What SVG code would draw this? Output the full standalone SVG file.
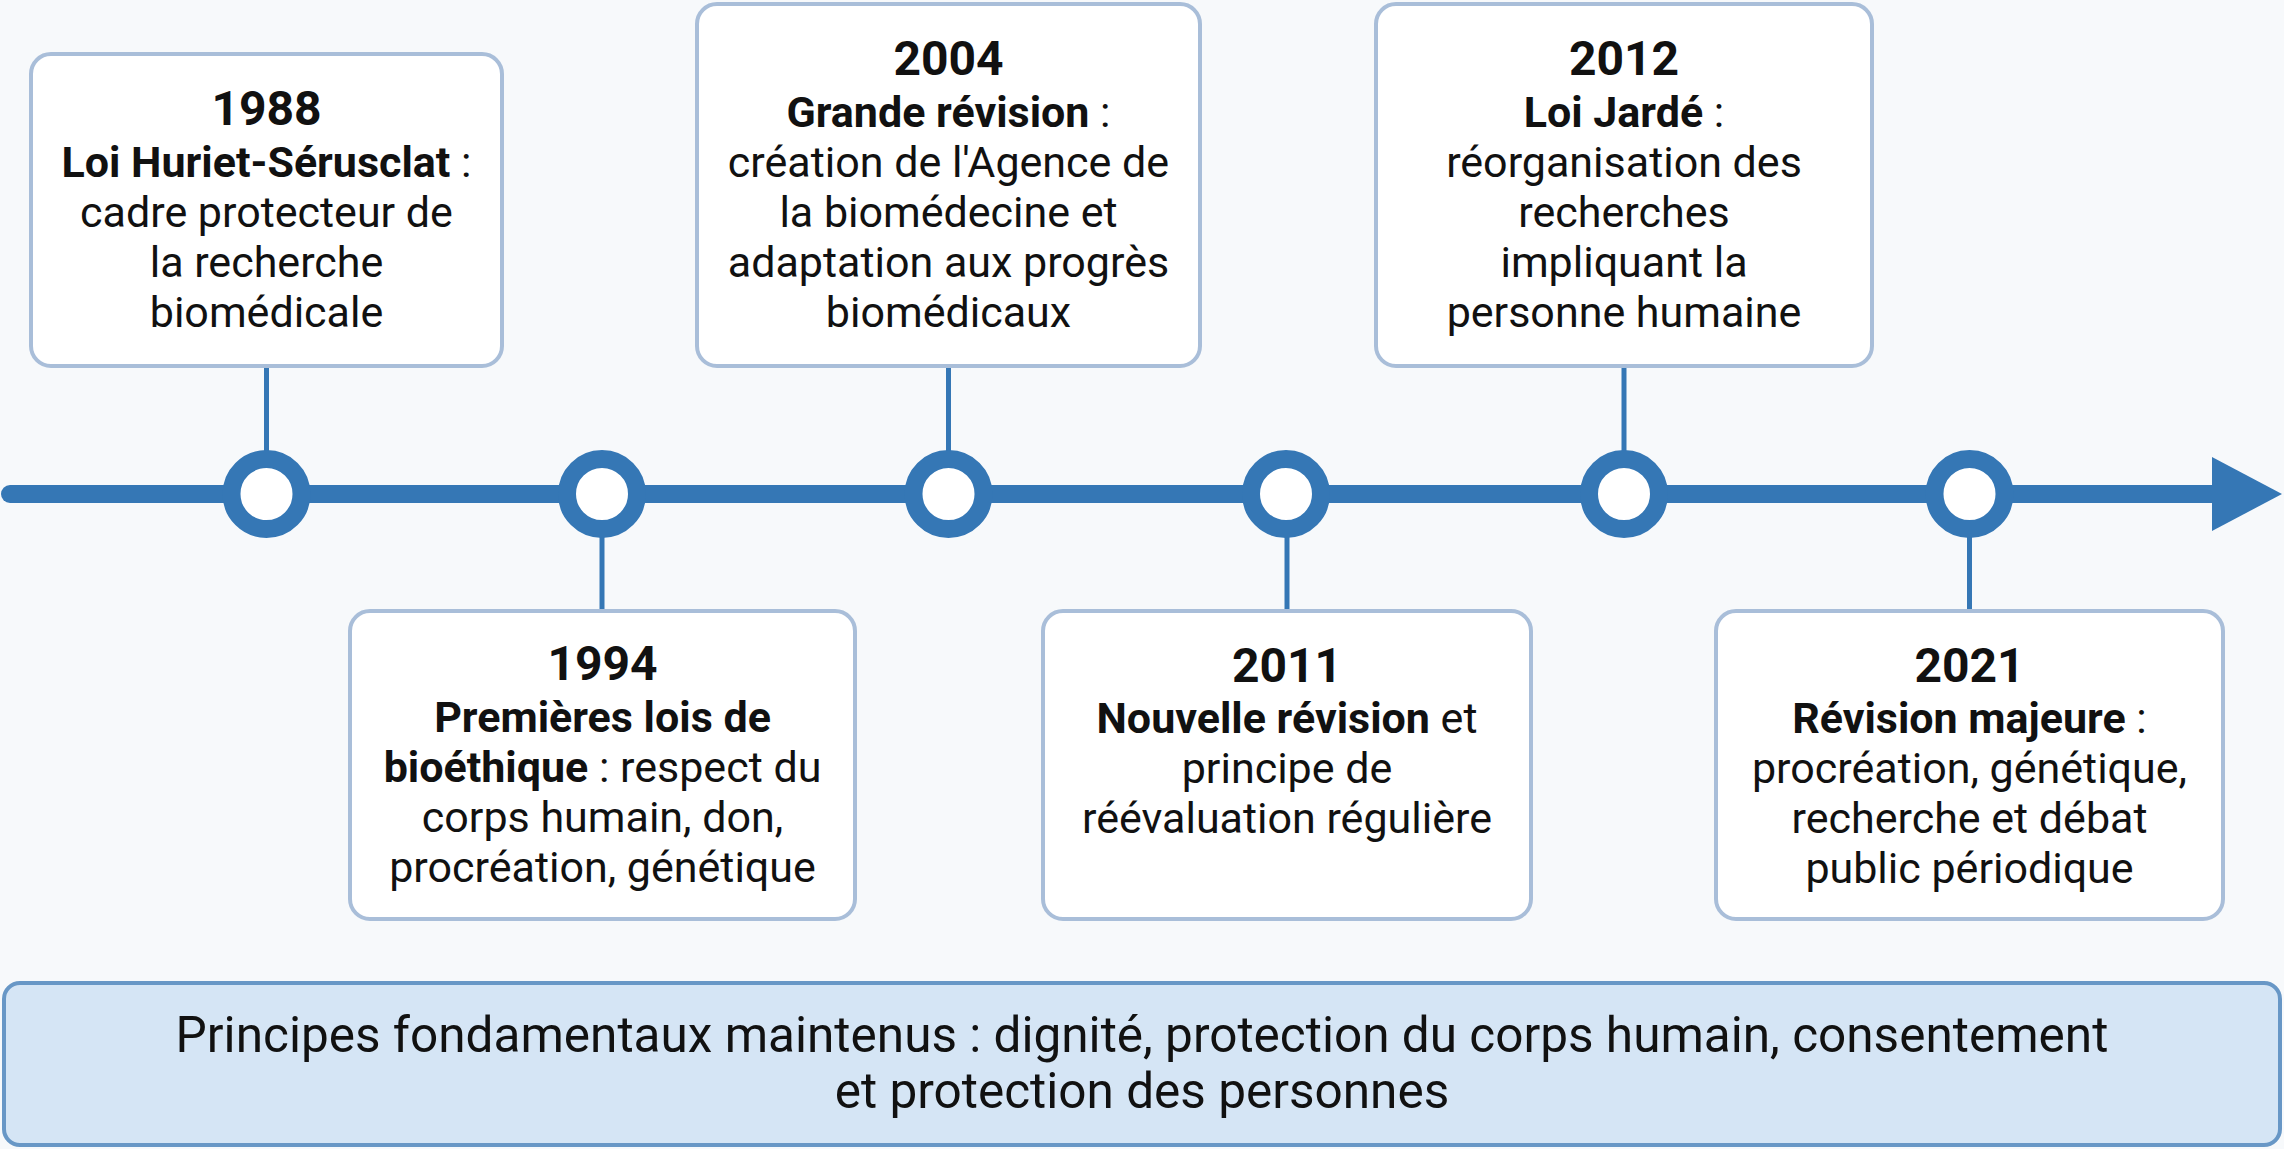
<svg xmlns="http://www.w3.org/2000/svg" width="2284" height="1149" viewBox="0 0 2284 1149">
<style>
.box{fill:#FFFFFF;stroke:#A9BED9;stroke-width:4}
.t{font-family:Roboto,"Liberation Sans",sans-serif;font-size:43px;fill:#111111;text-anchor:middle}
.y{font-size:48px;font-weight:bold}
.b{font-weight:bold}
.stem{stroke:#3577B5;stroke-width:5;fill:none}
.ring{fill:#FFFFFF;stroke:#3577B5;stroke-width:18}
.ban{font-family:Roboto,"Liberation Sans",sans-serif;font-size:49.5px;fill:#111111;text-anchor:middle}
</style>
<rect x="0" y="0" width="2284" height="1149" fill="#F7F9FB"/>
<g id="connectors">
<line x1="10" y1="494" x2="2216" y2="494" stroke="#3577B5" stroke-width="18" stroke-linecap="round"/>
<polygon points="2212,457 2282,494 2212,531" fill="#3577B5"/>
<line class="stem" x1="266.5" y1="366" x2="266.5" y2="455"/>
<line class="stem" x1="602" y1="535" x2="602" y2="612"/>
<line class="stem" x1="948.5" y1="366" x2="948.5" y2="455"/>
<line class="stem" x1="1287" y1="535" x2="1287" y2="612"/>
<line class="stem" x1="1624" y1="366" x2="1624" y2="455"/>
<line class="stem" x1="1969.5" y1="535" x2="1969.5" y2="612"/>
<circle class="ring" cx="266.5" cy="494" r="35"/>
<circle class="ring" cx="602" cy="494" r="35"/>
<circle class="ring" cx="948.5" cy="494" r="35"/>
<circle class="ring" cx="1286" cy="494" r="35"/>
<circle class="ring" cx="1624" cy="494" r="35"/>
<circle class="ring" cx="1969.5" cy="494" r="35"/>
</g>
<g id="n1988">
<rect class="box" x="31" y="54" width="471" height="312" rx="20"/>
<text class="t y" x="266.5" y="125">1988</text>
<text class="t" x="266.5" y="177"><tspan class="b">Loi Huriet-Sérusclat</tspan> :</text>
<text class="t" x="266.5" y="227">cadre protecteur de</text>
<text class="t" x="266.5" y="277">la recherche</text>
<text class="t" x="266.5" y="327">biomédicale</text>
</g>
<g id="n1994">
<rect class="box" x="350" y="611" width="505" height="308" rx="20"/>
<text class="t y" x="602.5" y="680">1994</text>
<text class="t" x="602.5" y="732"><tspan class="b">Premières lois de</tspan></text>
<text class="t" x="602.5" y="782"><tspan class="b">bioéthique</tspan> : respect du</text>
<text class="t" x="602.5" y="832">corps humain, don,</text>
<text class="t" x="602.5" y="882">procréation, génétique</text>
</g>
<g id="n2004">
<rect class="box" x="697" y="4" width="503" height="362" rx="20"/>
<text class="t y" x="948.5" y="75">2004</text>
<text class="t" x="948.5" y="127"><tspan class="b">Grande révision</tspan> :</text>
<text class="t" x="948.5" y="177">création de l'Agence de</text>
<text class="t" x="948.5" y="227">la biomédecine et</text>
<text class="t" x="948.5" y="277">adaptation aux progrès</text>
<text class="t" x="948.5" y="327">biomédicaux</text>
</g>
<g id="n2011">
<rect class="box" x="1043" y="611" width="488" height="308" rx="20"/>
<text class="t y" x="1287" y="682">2011</text>
<text class="t" x="1287" y="733"><tspan class="b">Nouvelle révision</tspan> et</text>
<text class="t" x="1287" y="783">principe de</text>
<text class="t" x="1287" y="833">réévaluation régulière</text>
</g>
<g id="n2012">
<rect class="box" x="1376" y="4" width="496" height="362" rx="20"/>
<text class="t y" x="1624" y="75">2012</text>
<text class="t" x="1624" y="127"><tspan class="b">Loi Jardé</tspan> :</text>
<text class="t" x="1624" y="177">réorganisation des</text>
<text class="t" x="1624" y="227">recherches</text>
<text class="t" x="1624" y="277">impliquant la</text>
<text class="t" x="1624" y="327">personne humaine</text>
</g>
<g id="n2021">
<rect class="box" x="1716" y="611" width="507" height="308" rx="20"/>
<text class="t y" x="1969.5" y="682">2021</text>
<text class="t" x="1969.5" y="733"><tspan class="b">Révision majeure</tspan> :</text>
<text class="t" x="1969.5" y="783">procréation, génétique,</text>
<text class="t" x="1969.5" y="833">recherche et débat</text>
<text class="t" x="1969.5" y="883">public périodique</text>
</g>
<g id="principes">
<rect x="4" y="983" width="2276" height="162" rx="16" fill="#D5E5F5" stroke="#6897C6" stroke-width="4"/>
<text class="ban" x="1142" y="1052">Principes fondamentaux maintenus : dignité, protection du corps humain, consentement</text>
<text class="ban" x="1142" y="1108">et protection des personnes</text>
</g>
</svg>
